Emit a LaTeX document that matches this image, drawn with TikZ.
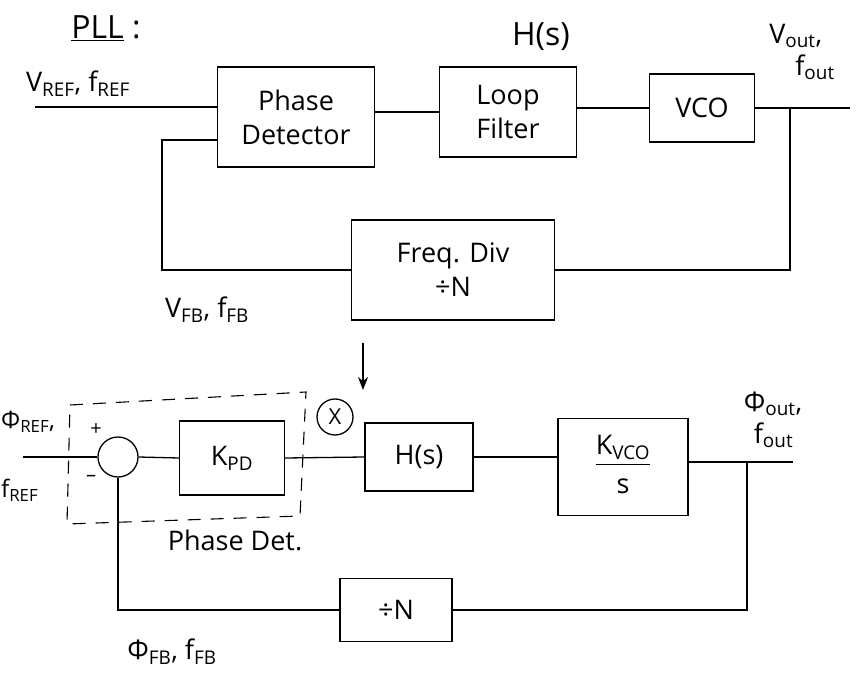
\documentclass[tikz,border=0pt]{standalone}
\usepackage{fontspec}
\setmainfont{Open Sans}
\usetikzlibrary{arrows.meta}
\begin{document}
\begin{tikzpicture}[x=1pt,y=-1pt,
  blk/.style={draw, line width=1.3pt, inner sep=2pt, align=center, font=\fontsize{27}{34}\selectfont},
  lbl/.style={font=\fontsize{27}{32}\selectfont, inner sep=0pt, align=left},
  wire/.style={line width=1.3pt},
  frame/.style={line width=1.1pt, dash pattern=on 13pt off 10pt}]
\useasboundingbox (0,0) rectangle (863,677);
% ---------- top: PLL ----------
\node[blk, minimum width=157pt, minimum height=100pt] (pd) at (296,117) {Phase\\Detector};
\node[blk, minimum width=137pt, minimum height=90pt] (lf) at (508,112) {Loop\\Filter};
\node[blk, minimum width=105pt, minimum height=68pt] (vco) at (702,108) {VCO};
\node[blk, minimum width=203pt, minimum height=100pt] (fd) at (453,270) {Freq. Div\\÷N};
\coordinate (vin) at (35,107);
\coordinate (vout) at (850,108);
\coordinate (tap) at (790,108);
\coordinate (fbl) at (162,140);
\draw[wire] (vin) -- (vin -| pd.west);
\draw[wire] (pd.east |- lf.west) -- (lf.west);
\draw[wire] (lf.east |- vco.west) -- (vco.west);
\draw[wire] (vco.east) -- (vout);
\draw[wire] (tap) |- (fd.east);
\draw[wire] (fd.west) -| (fbl) -- (fbl -| pd.west);
\node[lbl, font=\fontsize{32}{36}\selectfont] (pll) at (106,28) {\underline{PLL} :};
\node[lbl] (vref) at (78,84) {V\textsubscript{REF}, f\textsubscript{REF}};
\node[lbl, font=\fontsize{32}{36}\selectfont] (hs) at (541,37) {H(s)};
\node[lbl] (voutl) at (802,52) {V\textsubscript{out},\\\hspace{26pt}f\textsubscript{out}};
\node[lbl] (vfb) at (207,310) {V\textsubscript{FB}, f\textsubscript{FB}};
\coordinate (a1) at (363,343);
\coordinate (a2) at (363,390);
\draw[wire,-{Stealth[length=13pt,width=10pt]}] (a1) -- (a2);
% ---------- bottom: linear model ----------
\node[draw, circle, minimum size=40pt, inner sep=0pt, line width=1.3pt] (sum) at (118,457) {};
\node[blk, minimum width=105pt, minimum height=74pt] (kpd) at (232,458) {K\textsubscript{PD}};
\node[draw, circle, minimum size=36pt, inner sep=0pt, line width=1.3pt, font=\fontsize{22}{24}\selectfont] (mx) at (335,417) {X};
\node[blk, minimum width=108pt, minimum height=68pt] (hsb) at (419,457) {H(s)};
\setlength{\arrayrulewidth}{1.3pt}
\node[blk, minimum width=130pt, minimum height=97pt] (kvco) at (623,467) {\begin{tabular}{@{}c@{}}K\textsubscript{VCO}\\[-1pt]\hline\rule{0pt}{28pt}s\end{tabular}};
\node[blk, minimum width=112pt, minimum height=63pt] (dn) at (396,610) {÷N};
\draw[frame] (70,405) -- (306,392) -- (300,516) -- (67,524) -- cycle;
\node[lbl] (pdl) at (235,540) {Phase Det.};
\coordinate (pin) at (23,457);
\coordinate (pout) at (793,462);
\coordinate (ptap) at (747,462);
\draw[wire] (pin) -- (sum.west);
\draw[wire] (sum.east) -- (kpd.west);
\draw[wire] (kpd.east) -- (hsb.west);
\draw[wire] (hsb.east) -- (hsb.east -| kvco.west);
\draw[wire] (kvco.east |- pout) -- (pout);
\draw[wire] (ptap) |- (dn.east);
\draw[wire] (dn.west) -| (sum.south);
\node[lbl, font=\fontsize{20}{24}\selectfont] (plus) at (96,430) {+};
\node[lbl, font=\fontsize{20}{24}\selectfont] (minus) at (91,478) {–};
\node[lbl, anchor=west, font=\fontsize{24}{28}\selectfont] (phiref) at (1,422) {Φ\textsubscript{REF},};
\node[lbl, anchor=west, font=\fontsize{24}{28}\selectfont] (fref) at (1,490) {f\textsubscript{REF}};
\node[lbl] (phiout) at (773,420) {Φ\textsubscript{out},\\\hspace{10pt}f\textsubscript{out}};
\node[lbl] (phifb) at (172,652) {Φ\textsubscript{FB}, f\textsubscript{FB}};
\end{tikzpicture}
\end{document}
